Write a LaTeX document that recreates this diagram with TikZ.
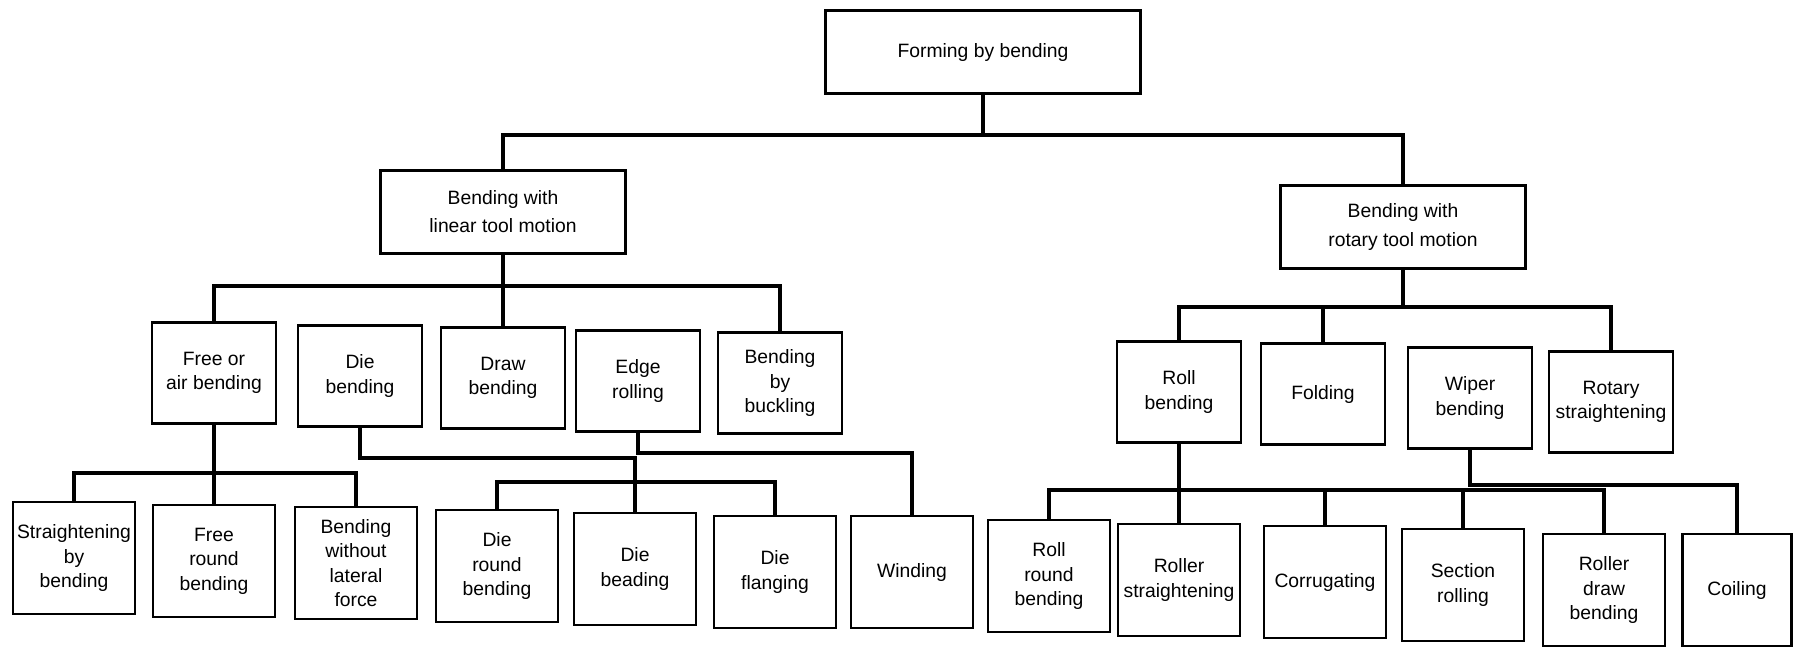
\documentclass[tikz,border=0pt]{standalone}
\usepackage{fontspec}
\setsansfont{Liberation Sans}
\tikzset{
  basic/.style   = {draw, rectangle, align=center, inner sep=0pt, line width=1.4pt,
                    font=\sffamily\fontsize{11}{14}\selectfont},
  root/.style    = {basic, minimum width=6.3cm, minimum height=1.66cm},
  level 2/.style = {basic, minimum width=4.9cm, minimum height=1.66cm,
                    font=\sffamily\fontsize{11}{16}\selectfont},
  level 3/.style = {basic, minimum width=2.48cm, minimum height=2.02cm},
  level 4/.style = {basic, minimum width=2.44cm, minimum height=2.24cm},
  link/.style    = {line width=1.9pt}
}

\begin{document}
\begin{tikzpicture}[x=0.02cm, y=-0.02cm]
\path[use as bounding box, fill=white] (0,0) rectangle (1794,650);

% root and the two kinds of tool motion
\node[root] (c0) at (983,52) {Forming by bending};
\node[level 2] (c1) at (503,212) {Bending with\\linear tool motion};
\node[level 2] (c2) at (1403,227) {Bending with\\rotary tool motion};

% second level, linear motion
\begin{scope}[every node/.style={level 3}]
\node (c11) at (214,373) {Free or\\air bending};
\node (c12) at (360,376) {Die\\bending};
\node (c13) at (503,378) {Draw\\bending};
\node (c14) at (638,381) {Edge\\rolling};
\node (c15) at (780,383) {Bending\\by\\buckling};

% second level, rotary motion
\node (c21) at (1179,392) {Roll\\bending};
\node (c22) at (1323,394) {Folding};
\node (c23) at (1470,398) {Wiper\\bending};
\node (c24) at (1611,402) {Rotary\\straightening};
\end{scope}

% third level
\begin{scope}[every node/.style={level 4}]
\node (c111) at (74,558) {Straightening\\by\\bending};
\node (c112) at (214,561) {Free\\round\\bending};
\node (c113) at (356,563) {Bending\\without\\lateral\\force};
\node (c121) at (497,566) {Die\\round\\bending};
\node (c122) at (635,569) {Die\\beading};
\node (c123) at (775,572) {Die\\flanging};
\node (c141) at (912,572) {Winding};

\node (c211) at (1049,576) {Roll\\round\\bending};
\node (c212) at (1179,580) {Roller\\straightening};
\node (c213) at (1325,582) {Corrugating};
\node (c214) at (1463,585) {Section\\rolling};
\node (c215) at (1604,590) {Roller\\draw\\bending};
\node[minimum width=2.18cm] (c231) at (1737,590) {Coiling};
\end{scope}

% heights of the horizontal bars
\coordinate (b0) at (0,135);
\coordinate (b1) at (0,286);
\coordinate (b2) at (0,307);
\coordinate (b11) at (0,473);
\coordinate (b12) at (0,482);
\coordinate (b21) at (0,490);

% lines from each parent to its children
\foreach \value in {1,2}
  \draw[link] (c0.south) -- (c0.south |- b0) -| (c\value.north);

\foreach \value in {1,3,5}
  \draw[link] (c1.south) -- (c1.south |- b1) -| (c1\value.north);

\foreach \value in {1,2,4}
  \draw[link] (c2.south) -- (c2.south |- b2) -| (c2\value.north);

\foreach \value in {1,2,3}
  \draw[link] (c11.south) -- (c11.south |- b11) -| (c11\value.north);

\draw[link] (c12.south) |- (c122.north |- 0,458) -- (c122.north |- b12);
\foreach \value in {1,2,3}
  \draw[link] (c122.north |- b12) -| (c12\value.north);

\draw[link] (c14.south) |- (c141.north |- 0,453) -- (c141.north);

\foreach \value in {1,...,5}
  \draw[link] (c21.south) -- (c21.south |- b21) -| (c21\value.north);

\draw[link] (c23.south) |- (c231.north |- 0,485) -- (c231.north);

\end{tikzpicture}
\end{document}
